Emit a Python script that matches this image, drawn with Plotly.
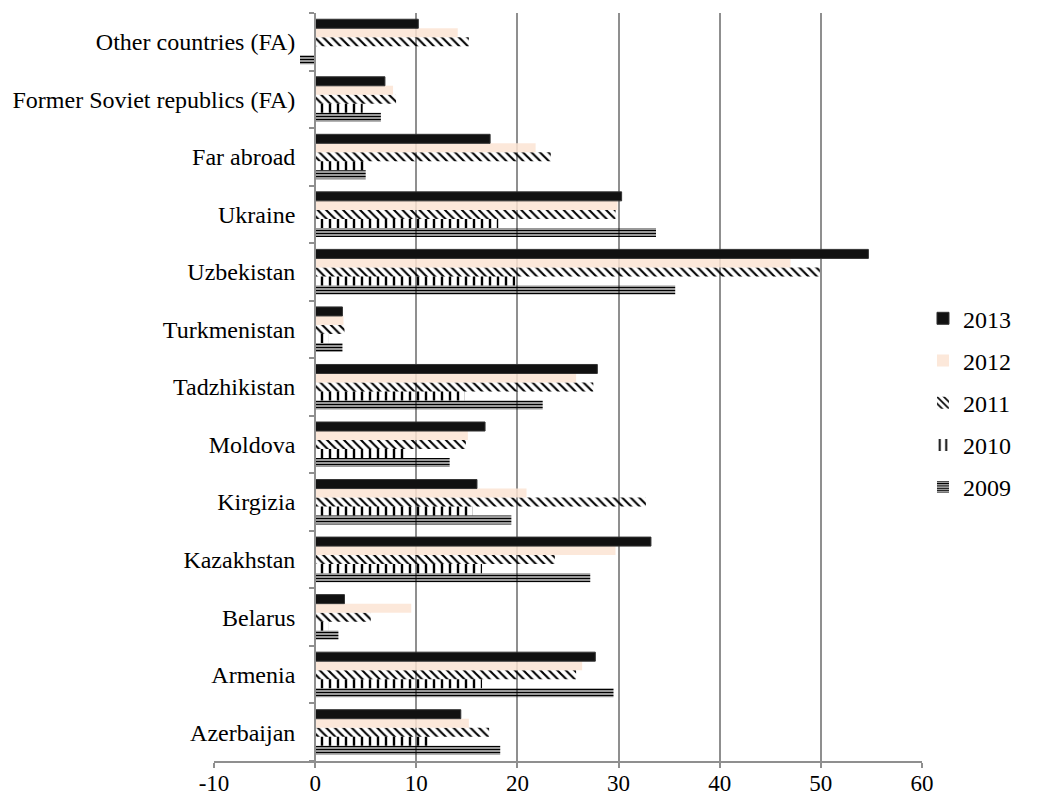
import plotly.graph_objects as go

categories = ["Azerbaijan", "Armenia", "Belarus", "Kazakhstan", "Kirgizia", "Moldova",
              "Tadzhikistan", "Turkmenistan", "Uzbekistan", "Ukraine", "Far abroad",
              "Former Soviet republics (FA)", "Other countries (FA)"]

v2009 = [18.3, 29.5, 2.3, 27.2, 19.4, 13.3, 22.5, 2.7, 35.6, 33.7, 5.0, 6.5, -1.5]
v2010 = [11.4, 16.5, 1.3, 16.5, 15.6, 8.9, 14.8, 1.3, 19.8, 18.1, 4.9, 4.7, 0]
v2011 = [17.2, 25.8, 5.5, 23.7, 32.7, 14.9, 27.5, 2.9, 49.9, 29.7, 23.3, 8.0, 15.2]
v2012 = [15.2, 26.4, 9.5, 29.7, 20.9, 15.1, 25.8, 2.8, 47.0, 29.9, 21.8, 7.7, 14.1]
v2013 = [14.4, 27.7, 2.9, 33.2, 16.0, 16.8, 27.9, 2.7, 54.7, 30.3, 17.3, 6.9, 10.2]

x_ticks = [-10, 0, 10, 20, 30, 40, 50, 60]
x_tick_labels = ["-10", "0", "10", "20", "30", "40", "50", "60"]

FONT = "Liberation Serif, Times New Roman, serif"
GRID = "#8f8f8f"

fig = go.Figure()

fig.add_trace(go.Bar(
    name="2009", y=categories, x=v2009, orientation="h", legendgroup="2009", legendrank=5,
    marker=dict(color="black", line=dict(width=0),
                pattern=dict(shape="-", size=3, solidity=0.6, fillmode="replace")),
))
fig.add_trace(go.Bar(
    name="2010", y=categories, x=v2010, orientation="h", legendgroup="2010", legendrank=4,
    marker=dict(color="black", line=dict(width=0),
                pattern=dict(shape="|", size=8, solidity=0.3, fillmode="replace")),
))
fig.add_trace(go.Bar(
    name="2011", y=categories, x=v2011, orientation="h", legendgroup="2011", legendrank=3,
    marker=dict(color="black", line=dict(width=0),
                pattern=dict(shape="\\", size=6, solidity=0.35, fillmode="replace")),
))
fig.add_trace(go.Bar(
    name="2012", y=categories, x=v2012, orientation="h", legendgroup="2012", legendrank=2,
    marker=dict(color="rgba(252,228,212,0.85)", line=dict(width=0)),
))
fig.add_trace(go.Bar(
    name="2013", y=categories, x=v2013, orientation="h", legendgroup="2013", legendrank=1,
    marker=dict(color="#111111", line=dict(color="#333333", width=1)),
))

zero_pos = (0 - x_ticks[0]) / (x_ticks[-1] - x_ticks[0])

# page body has an 8px margin, so the figure is 8px smaller than the window
fig.update_layout(
    width=1033, height=790,
    margin=dict(l=206, r=119, t=5, b=37, autoexpand=False),
    paper_bgcolor="white", plot_bgcolor="white",
    barmode="group", bargap=0.217, bargroupgap=0,
    font=dict(family=FONT, size=24, color="black"),
    legend=dict(
        x=1.0014, xanchor="left", y=0.479, yanchor="middle",
        traceorder="grouped", tracegroupgap=8,
        font=dict(family=FONT, size=24, color="black"),
        itemwidth=30, bgcolor="rgba(0,0,0,0)",
    ),
    xaxis=dict(
        range=[x_ticks[0], x_ticks[-1]], tickvals=x_ticks, ticktext=x_tick_labels,
        automargin=False,
        showgrid=True, gridcolor=GRID, gridwidth=2,
        zeroline=False, showline=True, linecolor=GRID, linewidth=2,
        ticks="outside", ticklen=5, tickcolor=GRID, tickwidth=2,
        ticklabelstandoff=-5,
        tickfont=dict(family=FONT, size=23, color="black"),
    ),
    yaxis=dict(
        type="category", categoryorder="array", categoryarray=categories,
        anchor="free", position=zero_pos, automargin=False,
        showgrid=False, zeroline=False,
        showline=True, linecolor=GRID, linewidth=2,
        ticks="outside", tickson="boundaries", ticklen=5, tickcolor=GRID, tickwidth=2,
        ticklabelstandoff=14,
        tickfont=dict(family=FONT, size=24, color="black"),
    ),
)

fig.write_html("out.html")
